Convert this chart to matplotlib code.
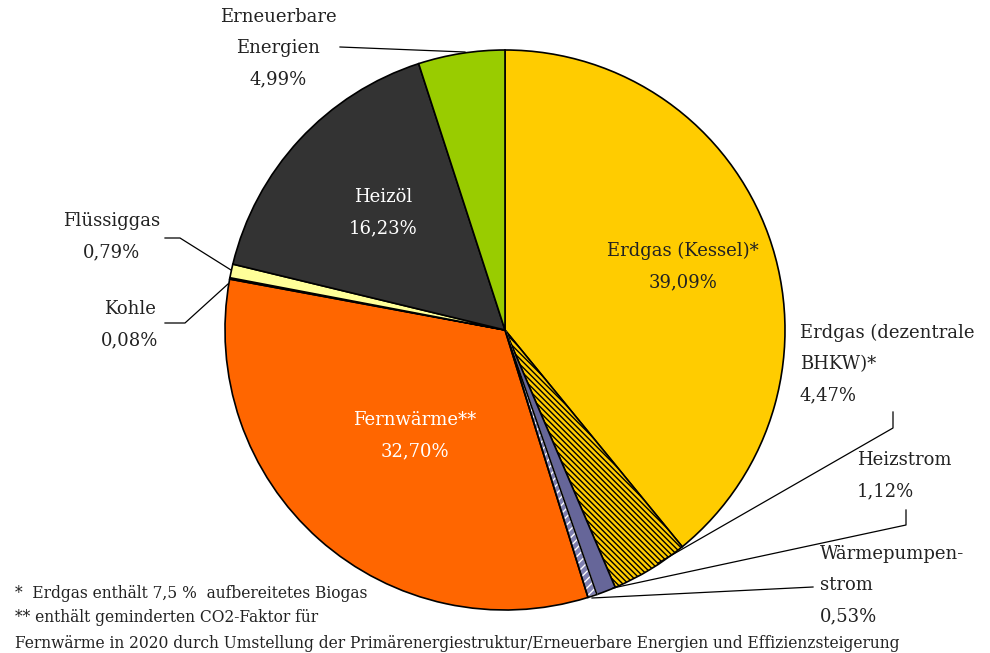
import matplotlib.pyplot as plt
import matplotlib.patches as mpatches

# data
labels = ["Erdgas (Kessel)*", "Erdgas (dezentrale\nBHKW)*", "Heizstrom",
          "Wärmepumpen-\nstrom", "Fernwärme**", "Kohle", "Flüssiggas",
          "Heizöl", "Erneuerbare\nEnergien"]
shares = [39.09, 4.47, 1.12, 0.53, 32.70, 0.08, 0.79, 16.23, 4.99]
colors = ["#FFCC00", "#FFCC00", "#666699", "#8080B0", "#FF6600",
          "#993300", "#FFFF99", "#333333", "#99CC00"]
footnotes = ["*  Erdgas enthält 7,5 %  aufbereitetes Biogas",
             "** enthält geminderten CO2-Faktor für",
             "Fernwärme in 2020 durch Umstellung der Primärenergiestruktur/Erneuerbare Energien und Effizienzsteigerung"]

plt.rcParams['font.family'] = ['DejaVu Serif']
W, H = 990, 653
fig = plt.figure(figsize=(W / 100, H / 100), dpi=100)
ax = fig.add_axes([0, 0, 1, 1])

cx, cy, r = 505, H - 330, 280
wedges, _ = ax.pie(shares, colors=colors, startangle=90, counterclock=False,
                   center=(cx, cy), radius=r,
                   wedgeprops=dict(edgecolor="black", linewidth=1.2))
ax.set_xlim(0, W)
ax.set_ylim(0, H)
ax.set_aspect("equal")
ax.axis("off")

# hatched slices
wedges[1].set_hatch("\\\\\\\\\\\\")
wedges[3].set_edgecolor("white")
wedges[3].set_hatch("////")
w3 = wedges[3]
ax.add_patch(mpatches.Wedge(w3.center, w3.r, w3.theta1, w3.theta2,
                            facecolor="none", edgecolor="black", linewidth=1.2))

fs = 13
def Y(y):
    return H - y

def label(x, y, s, ha="center", color="#222222"):
    ax.text(x, Y(y), s, ha=ha, va="center", fontsize=fs, color=color, linespacing=1.95)

label(278, 48, "Erneuerbare\nEnergien\n4,99%")
label(383, 213, "Heizöl\n16,23%", color="white")
label(112, 237, "Flüssiggas\n0,79%")
label(130, 325, "Kohle\n0,08%")
label(683, 267, "Erdgas (Kessel)*\n39,09%")
label(800, 364, "Erdgas (dezentrale\nBHKW)*\n4,47%", ha="left")
label(857, 476, "Heizstrom\n1,12%", ha="left")
label(820, 585, "Wärmepumpen-\nstrom\n0,53%", ha="left")
label(415, 436, "Fernwärme**\n32,70%", color="white")

# leader lines
leaders = [
    [(340, 47), (465, 52)],
    [(165, 238), (180, 238), (231, 270)],
    [(165, 323), (185, 323), (228, 284)],
    [(893, 412), (893, 428), (658, 563)],
    [(906, 510), (906, 525), (613, 588)],
    [(813, 587), (592, 598)],
]
for pts in leaders:
    xs = [p[0] for p in pts]
    ys = [Y(p[1]) for p in pts]
    ax.plot(xs, ys, color="black", linewidth=0.9)

for i, s in enumerate(footnotes):
    ax.text(15, Y(593 + i * 25), s, ha="left", va="center", fontsize=11.2, color="#222222")

fig.savefig("out.png", dpi=100)
